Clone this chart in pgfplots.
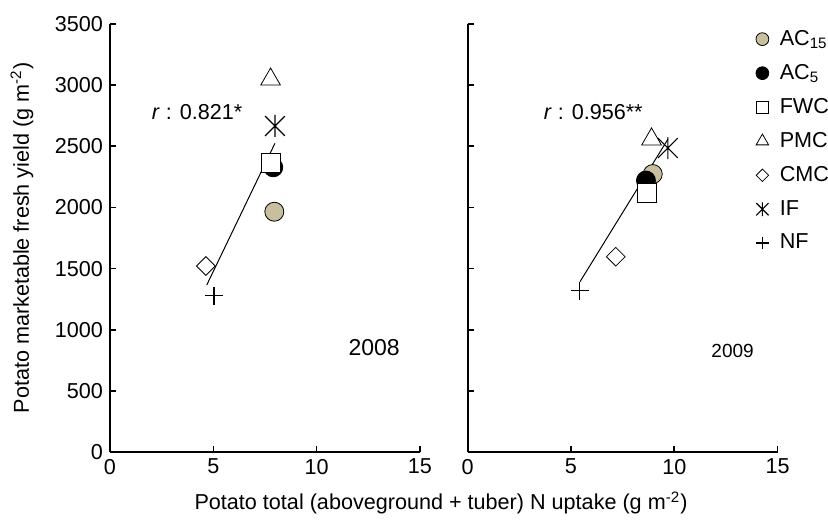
\documentclass[border=0pt]{standalone}
\usepackage{fontspec}
\setmainfont{Liberation Sans}
\usepackage{pgfplots}
\pgfplotsset{compat=1.18}
\definecolor{beige}{RGB}{200,191,158}
\pgfdeclareplotmark{vx}{%
  \pgfpathmoveto{\pgfqpoint{0pt}{\pgfplotmarksize}}%
  \pgfpathlineto{\pgfqpoint{0pt}{-\pgfplotmarksize}}%
  \pgfpathmoveto{\pgfqpoint{-.9\pgfplotmarksize}{-.9\pgfplotmarksize}}%
  \pgfpathlineto{\pgfqpoint{.9\pgfplotmarksize}{.9\pgfplotmarksize}}%
  \pgfpathmoveto{\pgfqpoint{-.9\pgfplotmarksize}{.9\pgfplotmarksize}}%
  \pgfpathlineto{\pgfqpoint{.9\pgfplotmarksize}{-.9\pgfplotmarksize}}%
  \pgfusepathqstroke}
\pgfplotsset{
  myax/.style={scale only axis, width=155bp, height=214bp,
    xmin=0, xmax=15, ymin=0, ymax=3500,
    xtick={0,5,10,15}, ytick={0,500,...,3500},
    axis x line=bottom, axis y line=left,
    axis line style={-, line width=1.1bp},
    tick align=inside, major tick length=3bp,
    tick style={line width=0.8bp, black},
    /pgf/number format/assume math mode=true,
    /pgf/number format/1000 sep={},
    tick label style={font=\fontsize{10.8bp}{13bp}\selectfont},
    clip=false},
  mk/.style={only marks, mark options={draw=black, line width=0.6bp}},
  sAC15/.style={mk, mark=*, mark size=4.75bp, mark options={fill=beige}},
  sAC5/.style={mk, mark=*, mark size=4.75bp, mark options={fill=black}},
  sFWC/.style={mk, mark=square*, mark size=4.75bp, mark options={fill=white}},
  sPMC/.style={mk, mark=triangle*, mark size=5.7bp, mark options={fill=white}},
  sCMC/.style={mk, mark=square*, mark size=3.3bp, mark options={fill=white, rotate=45}},
  sIF/.style={mk, mark=vx, mark size=5.5bp},
  sNF/.style={mk, mark=+, mark size=4.5bp},
}
\begin{document}
\begin{tikzpicture}[font=\fontsize{10.8bp}{13bp}\selectfont]
\path[use as bounding box] (-55bp,-34bp) rectangle (359bp,226bp);
% ---------------- 2008 ----------------
\begin{axis}[myax, at={(0bp,0bp)}, anchor=origin,
  ylabel={Potato marketable fresh yield (g m\textsuperscript{-2})},
  every axis y label/.style={at={(axis description cs:-0.284,0.5)}, rotate=90, anchor=center, font=\fontsize{10.8bp}{13bp}\selectfont}]
\addplot[black, line width=0.5bp, no marks] coordinates {(4.68,1365) (7.98,2524)};
\addplot[sAC15] coordinates {(7.95,1965)};
\addplot[sAC5] coordinates {(7.90,2328)};
\addplot[sFWC] coordinates {(7.77,2366)};
\addplot[sPMC] coordinates {(7.77,3047)};
\addplot[sCMC] coordinates {(4.64,1521)};
\addplot[sIF] coordinates {(7.98,2666)};
\addplot[sNF] coordinates {(5.03,1278)};
\node[anchor=west] at (axis cs:1.69,2780) {\textit{r} : 0.821*};
\node[anchor=west, font=\fontsize{11.5bp}{13bp}\selectfont] at (axis cs:11.2,850) {2008};
\end{axis}
% ---------------- 2009 ----------------
\begin{axis}[myax, at={(178.8bp,0bp)}, anchor=origin, yticklabels={},
  legend image code/.code={\draw[#1] plot coordinates {(0bp,0bp)}; \path (6.5bp,0bp);},
  legend style={draw=none, fill=none, inner sep=0pt,
    at={(axis description cs:0.929,0.996)}, anchor=north west,
    row sep=4bp, font=\fontsize{10.8bp}{13bp}\selectfont},
  legend cell align=left]
\addplot[black, line width=0.5bp, no marks, forget plot] coordinates {(5.44,1393) (9.70,2560)};
\addplot[sAC15, forget plot] coordinates {(8.96,2273)};
\addplot[sAC5, forget plot] coordinates {(8.63,2220)};
\addplot[sFWC, forget plot] coordinates {(8.69,2120)};
\addplot[sPMC, forget plot] coordinates {(8.90,2557)};
\addplot[sCMC, forget plot] coordinates {(7.17,1597)};
\addplot[sIF, forget plot] coordinates {(9.69,2486)};
\addplot[sNF, forget plot] coordinates {(5.43,1319)};
\node[anchor=west] at (axis cs:3.35,2780) {\textit{r} : 0.956**};
\node[anchor=west, font=\fontsize{9.5bp}{11bp}\selectfont] at (axis cs:11.46,830) {2009};
\addlegendimage{mk, mark=*, mark size=3.2bp, mark options={fill=beige}}
\addlegendentry{AC\textsubscript{15}}
\addlegendimage{mk, mark=*, mark size=3.2bp, mark options={fill=black}}
\addlegendentry{AC\textsubscript{5}}
\addlegendimage{mk, mark=square*, mark size=3bp, mark options={fill=white}}
\addlegendentry{FWC}
\addlegendimage{mk, mark=triangle*, mark size=3.6bp, mark options={fill=white}}
\addlegendentry{PMC}
\addlegendimage{mk, mark=square*, mark size=2.2bp, mark options={fill=white, rotate=45}}
\addlegendentry{CMC}
\addlegendimage{mk, mark=vx, mark size=3.4bp}
\addlegendentry{IF}
\addlegendimage{mk, mark=+, mark size=3.2bp}
\addlegendentry{NF}
\end{axis}
\node at (165.5bp,-25.5bp) {Potato total (aboveground + tuber) N uptake (g m\textsuperscript{-2})};
\end{tikzpicture}
\end{document}
